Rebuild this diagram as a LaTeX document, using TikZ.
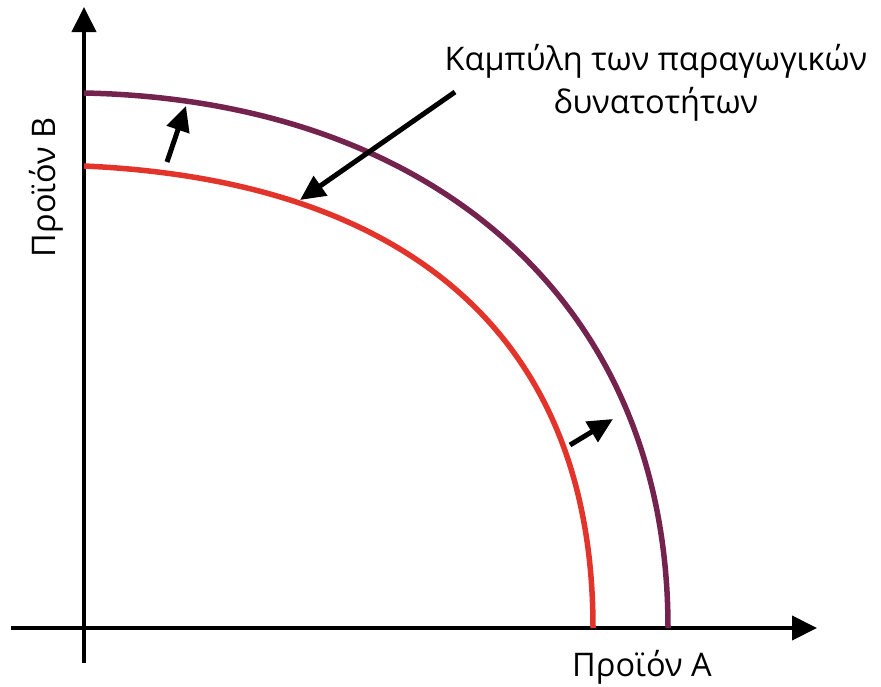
\documentclass[tikz,border=0pt]{standalone}
\usepackage{fontspec}
\setmainfont{Open Sans}
\usepackage{tikz}
\usetikzlibrary{arrows.meta, positioning}
\definecolor{ppf-red}{HTML}{E2342B}
\definecolor{ppf-purple}{HTML}{74234F}

\begin{document}
\begin{tikzpicture}[x=1pt, y=-1pt,
    axis/.style={line width=4pt, -{Triangle[length=25pt, width=24pt]}},
    curve/.style={line width=5.5pt},
    arrow/.style={line width=5pt, -{Triangle[length=25pt, width=23pt]}},
    label/.style={font=\fontsize{32.5}{38}\selectfont, inner sep=0pt}
]
    \useasboundingbox (0,0) rectangle (881,686);

    % axes
    \coordinate (xstart) at (11,628);
    \coordinate (xend) at (817,628);
    \coordinate (ystart) at (84,663);
    \coordinate (yend) at (84,7);
    \draw [axis] (xstart) -- (xend);
    \draw [axis] (ystart) -- (yend);

    % curves
    \coordinate (red0) at (84,166);
    \coordinate (red1) at (593,628);
    \coordinate (purple0) at (84,93);
    \coordinate (purple1) at (668,628);
    \draw [curve, ppf-red] (red0) .. controls (400,180) and (593,330) .. (red1);
    \draw [curve, ppf-purple] (purple0) .. controls (430,100) and (668,300) .. (purple1);

    % shift arrows
    \coordinate (s1a) at (167,162);
    \coordinate (s1b) at (186,106);
    \coordinate (s2a) at (570,445);
    \coordinate (s2b) at (613,419);
    \draw [arrow] (s1a) -- (s1b);
    \draw [arrow] (s2a) -- (s2b);

    % labels
    \node (title) [label, anchor=base] at (656,70) {Καμπύλη των παραγωγικών};
    \node (title2) [label, anchor=base] at ([yshift=-43pt]title.base) {δυνατοτήτων};
    \node (ylabel) [label, rotate=90, anchor=base] at (55,187) {Προϊόν Β};
    \node (xlabel) [label, anchor=base] at (642,676) {Προϊόν Α};

    \coordinate (tail) at (455,92);
    \coordinate (touch) at (300,200);
    \draw [arrow] (tail) -- (touch);
\end{tikzpicture}
\end{document}
